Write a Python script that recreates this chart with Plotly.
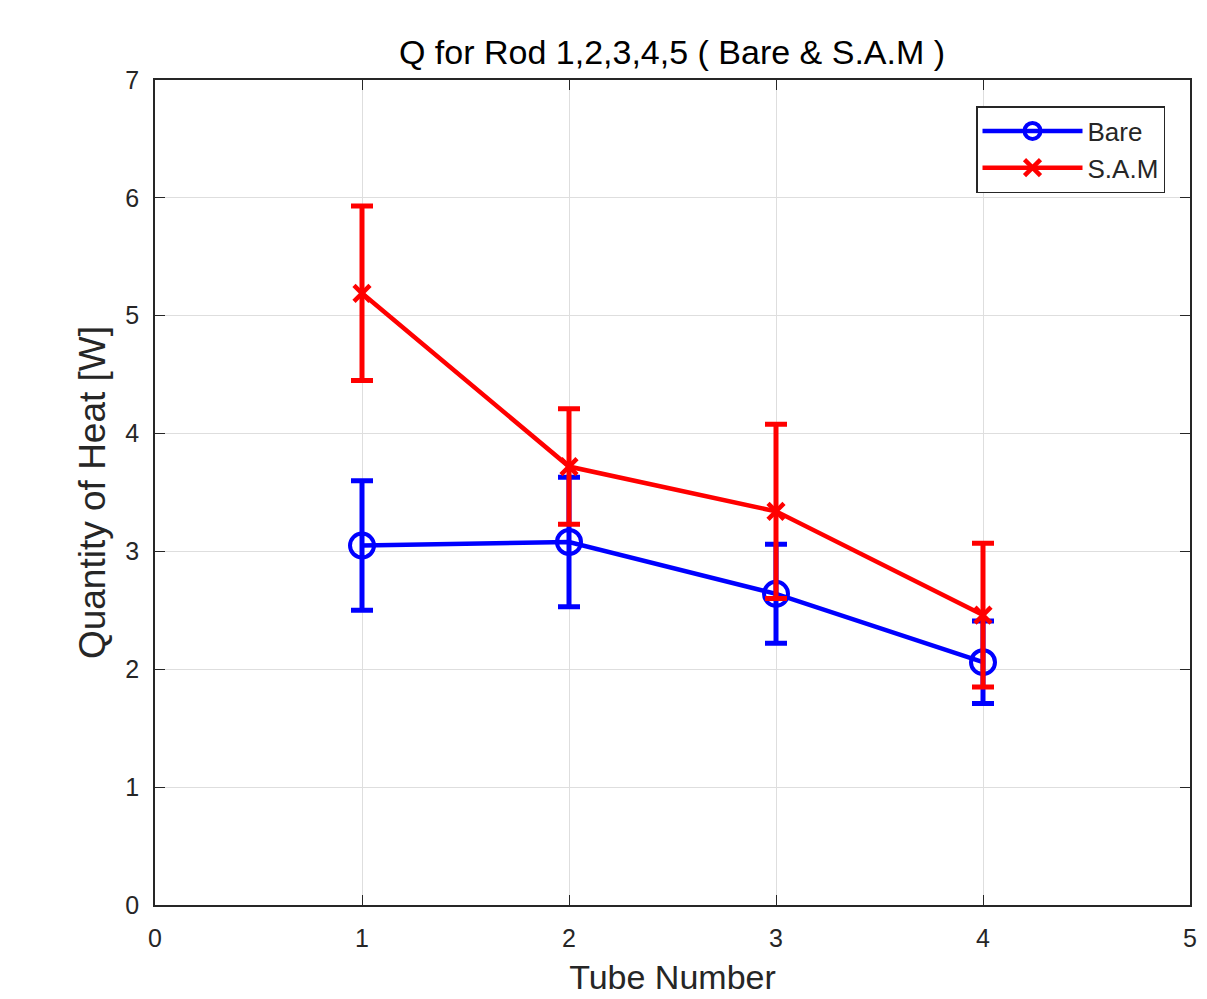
import plotly.graph_objects as go

tubes = [1, 2, 3, 4]
bare_q = [3.05, 3.08, 2.64, 2.06]
bare_err = [0.55, 0.55, 0.42, 0.35]
sam_q = [5.19, 3.72, 3.34, 2.46]
sam_err = [0.74, 0.49, 0.74, 0.61]

x_ticks = [0, 1, 2, 3, 4, 5]
y_ticks = [0, 1, 2, 3, 4, 5, 6, 7]

FONT = "Liberation Sans, Arial, sans-serif"

fig = go.Figure()
fig.add_trace(go.Scatter(
    x=tubes, y=bare_q, name="Bare", mode="lines+markers",
    line=dict(color="#0000ff", width=4.5),
    marker=dict(symbol="circle-open", size=24, color="#0000ff", line=dict(width=4)),
    error_y=dict(type="data", array=bare_err, visible=True, color="#0000ff", thickness=5, width=11),
))
fig.add_trace(go.Scatter(
    x=tubes, y=sam_q, name="S.A.M", mode="lines+markers",
    line=dict(color="#ff0000", width=4.5),
    marker=dict(symbol="x-thin-open", size=16, color="#ff0000", line=dict(width=4.5, color="#ff0000")),
    error_y=dict(type="data", array=sam_err, visible=True, color="#ff0000", thickness=5, width=11),
))

axis_common = dict(
    showgrid=True, gridcolor="#dedede", gridwidth=1,
    showline=True, linecolor="#262626", linewidth=1.5, mirror="ticks",
    ticks="inside", ticklen=10, tickcolor="#262626", tickwidth=1,
    zeroline=False, automargin=False,
    tickfont=dict(family=FONT, size=25, color="#262626"),
)

fig.update_layout(
    width=1207, height=999,
    margin=dict(l=147, r=25, t=72, b=102),
    paper_bgcolor="white", plot_bgcolor="white",
    title=dict(text="Q for Rod 1,2,3,4,5 ( Bare & S.A.M )", x=(672 - 8) / 1207, xanchor="center",
               y=1 - 44 / 999, yanchor="middle",
               font=dict(family=FONT, size=34, color="#000000")),
    xaxis=dict(range=[0, 5], tickvals=x_ticks, ticklabelstandoff=10,
               title=dict(text="Tube Number", standoff=14,
                          font=dict(family=FONT, size=34, color="#262626")),
               **axis_common),
    yaxis=dict(range=[0, 7], tickvals=y_ticks, ticklabelstandoff=9,
               title=dict(text="Quantity of Heat [W]", standoff=8,
                          font=dict(family=FONT, size=37, color="#262626")),
               **axis_common),
    legend=dict(x=(1165 - 155) / 1035, y=(905 - 106) / 825, xanchor="right", yanchor="top",
                bgcolor="white", bordercolor="#262626", borderwidth=1.5,
                font=dict(family=FONT, size=26, color="#262626"),
                itemwidth=100, tracegroupgap=0),
    showlegend=True,
)

fig.write_html("out.html")
